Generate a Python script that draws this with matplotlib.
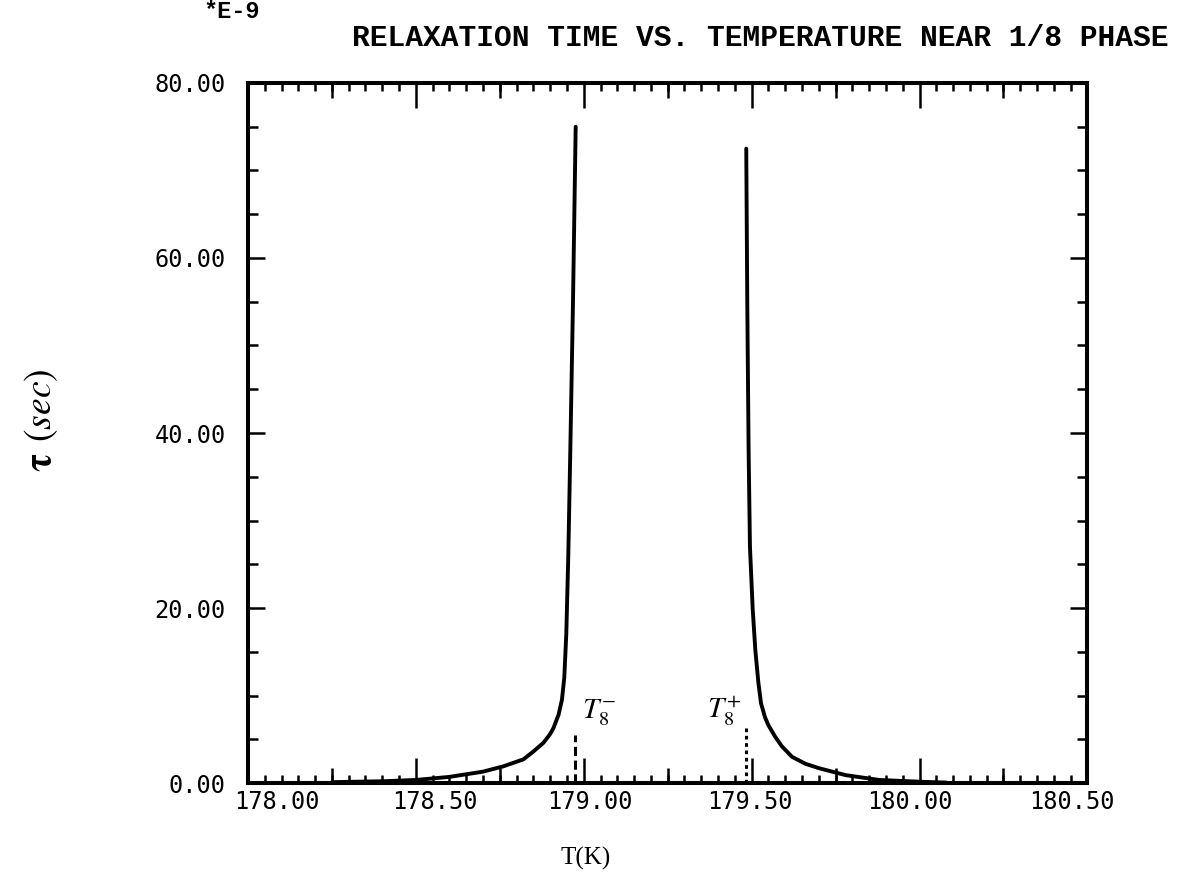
import numpy as np
import matplotlib.pyplot as plt
from matplotlib.ticker import MultipleLocator, NullFormatter
from matplotlib.transforms import ScaledTranslation

plt.rcParams['mathtext.fontset'] = 'stix'

# relaxation time (units of 1e-9 s) below T8-
t_low = [178.25, 178.40, 178.50, 178.60, 178.70, 178.76, 178.82, 178.85, 178.88,
         178.90, 178.91, 178.925, 178.935, 178.942, 178.948, 178.954, 178.96,
         178.968, 178.976]
tau_low = [0.1, 0.2, 0.35, 0.7, 1.3, 1.9, 2.7, 3.6, 4.6,
           5.6, 6.3, 7.8, 9.5, 12.0, 17.0, 26.0, 38.0,
           55.0, 75.0]

# relaxation time above T8+
t_high = [179.484, 179.487, 179.491, 179.495, 179.503, 179.511, 179.52, 179.528,
          179.54, 179.55, 179.57, 179.59, 179.62, 179.66, 179.70, 179.78, 179.88,
          180.00, 180.08]
tau_high = [72.5, 55.0, 38.0, 27.0, 20.0, 15.2, 11.5, 9.1,
            7.5, 6.6, 5.3, 4.2, 3.0, 2.2, 1.7, 0.9, 0.35,
            0.15, 0.05]

# transition markers
t8_minus, t8_minus_h = 178.975, 5.5
t8_plus, t8_plus_h = 179.483, 6.3

xticks = [178.00, 178.50, 179.00, 179.50, 180.00, 180.50]
yticks = [0, 20, 40, 60, 80]
mid_xticks = [178.25, 178.75, 179.25, 179.75, 180.25]
# the old plotter set its x labels on a slightly tighter grid than the ticks
xlabel_shift_px = [29, 19, 6, -2, -10, -16]

fig = plt.figure(figsize=(11.83, 8.80), dpi=100)
ax = fig.add_axes([0.2096, 0.1102, 0.7096, 0.7955])

ax.plot(t_low, tau_low, color='black', lw=2.8, solid_capstyle='round',
        solid_joinstyle='round')
ax.plot(t_high, tau_high, color='black', lw=2.8, solid_capstyle='round',
        solid_joinstyle='round')
ax.plot([t8_minus, t8_minus], [0, t8_minus_h], color='black', lw=2.2, ls=(0, (3, 1.5)))
ax.plot([t8_plus, t8_plus], [0, t8_plus_h], color='black', lw=2.2, ls=(0, (1.2, 1.2)))

ax.text(179.046, 8.1, r'$\mathbf{\mathit{T}}_8^-$', fontsize=21, ha='center', va='center')
ax.text(179.42, 8.1, r'$\mathbf{\mathit{T}}_8^+$', fontsize=21, ha='center', va='center')

ax.set_xlim(178.0, 180.5)
ax.set_ylim(0, 80)
ax.set_xticks(xticks)
ax.set_xticklabels(['%.2f' % v for v in xticks])
ax.set_yticks(yticks)
ax.set_yticklabels(['%.2f' % v for v in yticks])
ax.xaxis.set_minor_locator(MultipleLocator(0.05))
ax.yaxis.set_minor_locator(MultipleLocator(5))

ax.tick_params(which='both', direction='in', top=True, right=True, width=1.8, color='black')
ax.tick_params(axis='x', which='major', length=18, pad=5)
ax.tick_params(axis='x', which='minor', length=6)
ax.tick_params(axis='y', which='major', length=12, pad=16)
ax.tick_params(axis='y', which='minor', length=7)

# medium ticks at the quarter marks
for loc in ['bottom', 'top']:
    sec = ax.secondary_xaxis(loc)
    sec.set_xticks(mid_xticks)
    sec.xaxis.set_major_formatter(NullFormatter())
    sec.tick_params(direction='in', length=11, width=1.8)
    sec.spines[loc].set_visible(False)

for s in ax.spines.values():
    s.set_linewidth(2.9)

for lab in ax.get_xticklabels() + ax.get_yticklabels():
    lab.set_fontfamily('DejaVu Sans Mono')
    lab.set_fontsize(17)
for lab, dx in zip(ax.get_xticklabels(), xlabel_shift_px):
    lab.set_transform(lab.get_transform() + ScaledTranslation(dx / 100, 0, fig.dpi_scale_trans))

ax.set_xlabel('T(K)', family='Liberation Serif', fontsize=18)
ax.xaxis.set_label_coords((585 - 248) / 839, (783 - 847) / 700)
ax.set_ylabel(r'$\mathbf{\tau}$ $(sec)$', fontsize=27)
ax.yaxis.set_label_coords((60 - 248) / 839, (783 - 420) / 700)

fig.text(1168 / 1183, 1 - 38 / 880, 'RELAXATION TIME VS. TEMPERATURE NEAR 1/8 PHASE',
         family='Liberation Mono', fontweight='bold', fontsize=21.3, ha='right',
         va='center')
fig.text(232 / 1183, 1 - 11 / 880, '*E-9', family='Liberation Mono', fontweight='bold',
         fontsize=17, ha='center', va='center')

fig.savefig('out.png', dpi=100)
